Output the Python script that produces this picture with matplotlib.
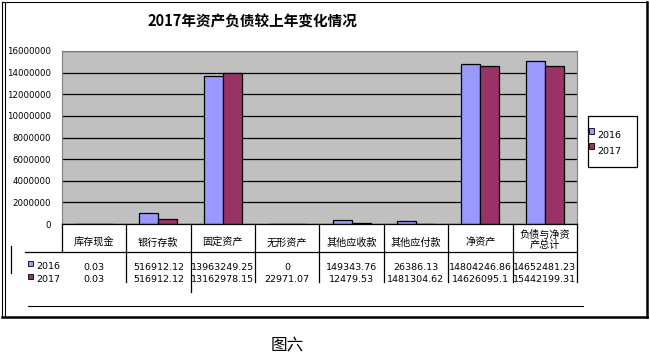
import numpy as np
import matplotlib
matplotlib.use("Agg")
import matplotlib.pyplot as plt
from matplotlib.patches import Rectangle

plt.rcParams['font.family'] = ['Noto Sans CJK SC', 'DejaVu Sans']

# data
categories = ["库存现金", "银行存款", "固定资产", "无形资产", "其他应收款", "其他应付款", "净资产", "负债与净资\n产总计"]
series_names = ["2016", "2017"]
bars_2016 = [0.03, 990000, 13700000, 0, 340000, 250000, 14800000, 15050000]
bars_2017 = [0.03, 435000, 13950000, 0, 90000, 15000, 14610000, 14610000]
table_2016 = ["0.03", "516912.12", "13963249.25", "0", "149343.76", "26386.13", "14804246.86", "14652481.23"]
table_2017 = ["0.03", "516912.12", "13162978.15", "22971.07", "12479.53", "1481304.62", "14626095.1", "15442199.31"]
yticks = [0, 2000000, 4000000, 6000000, 8000000, 10000000, 12000000, 14000000, 16000000]
title = "2017年资产负债较上年变化情况"
caption = "图六"

c2016 = "#9999FF"
c2017 = "#993366"

W, H = 650, 359
fig = plt.figure(figsize=(W / 100, H / 100), dpi=100)

# plot area in pixels
L, R, T, B = 61.7, 577, 51, 224
ax = fig.add_axes([L / W, 1 - B / H, (R - L) / W, (B - T) / H])
ax.set_facecolor("#C0C0C0")
x = np.arange(len(categories))
bw = 0.295
ax.set_axisbelow(True)
ax.bar(x - bw / 2, bars_2016, bw, color=c2016, edgecolor="black", linewidth=0.9, zorder=3)
ax.bar(x + bw / 2, bars_2017, bw, color=c2017, edgecolor="black", linewidth=0.9, zorder=3)
ax.set_xlim(-0.5, len(categories) - 0.5)
ax.set_ylim(0, 16000000)
ax.set_yticks(yticks)
ax.set_yticklabels([str(v) for v in yticks], fontsize=6.2, family="DejaVu Sans")
ax.tick_params(axis="y", length=0, pad=8)
ax.set_xticks([])
ax.yaxis.grid(True, color="black", linewidth=0.9)
for s in ["top", "right", "left"]:
    ax.spines[s].set_color("#808080")
ax.spines["bottom"].set_visible(False)

# overlay in pixel coordinates
ov = fig.add_axes([0, 0, 1, 1], zorder=5)
ov.set_xlim(0, W)
ov.set_ylim(H, 0)
ov.axis("off")
ov.patch.set_alpha(0)

lw = 0.9
colw = (R - L) / len(categories)
edges = [L + colw * i for i in range(len(categories) + 1)]

# table lines
ov.plot([L, R], [B, B], color="black", lw=lw)
ov.plot([25, R], [252, 252], color="black", lw=lw)
ov.plot([L, L], [B, 252], color="black", lw=lw)
for i, e in enumerate(edges[1:]):
    bottom = 292 if i == 1 else 282
    ov.plot([e, e], [B, bottom], color="black", lw=lw)
ov.plot([10.7, 10.7], [246, 273], color="black", lw=lw)

for i, cat in enumerate(categories):
    cx = edges[i] + colw / 2
    ov.text(cx, 242.5 if "\n" not in cat else 240, cat, ha="center", va="center", fontsize=7.3, linespacing=1.05)
    ov.text(cx, 267, table_2016[i], ha="center", va="center", fontsize=6.8, family="DejaVu Sans")
    ov.text(cx, 279.5, table_2017[i], ha="center", va="center", fontsize=6.8, family="DejaVu Sans")

# table legend keys
for yy, col, name in [(263, c2016, series_names[0]), (276, c2017, series_names[1])]:
    ov.add_patch(Rectangle((28, yy - 2.5), 5, 5, facecolor=col, edgecolor="black", lw=0.6))
    ov.text(36, yy + 3.5, name, ha="left", va="center", fontsize=6.8, family="DejaVu Sans")

# legend box
ov.add_patch(Rectangle((588, 116), 49, 51, facecolor="white", edgecolor="black", lw=lw))
for yy, col, name in [(131, c2016, series_names[0]), (146, c2017, series_names[1])]:
    ov.add_patch(Rectangle((589, yy - 3), 5, 6, facecolor=col, edgecolor="black", lw=0.6))
    ov.text(597, yy + 5, name, ha="left", va="center", fontsize=6.8, family="DejaVu Sans")

# title
ov.text(252, 22, title, ha="center", va="center", fontsize=10.5, fontweight="bold")

# outer frame
ov.plot([2, 2], [2, 317], color="black", lw=0.8)
ov.plot([4.5, 4.5], [2, 317], color="black", lw=0.8)
ov.plot([2, 647], [2, 2], color="black", lw=0.8)
ov.plot([647, 647], [2, 317], color="black", lw=1.8)
ov.plot([2, 647], [316.5, 316.5], color="black", lw=1.8)
ov.plot([28, 583], [306, 306], color="black", lw=0.8)

ov.text(287, 346, caption, ha="center", va="center", fontsize=12)

fig.savefig("out.png", dpi=100)
